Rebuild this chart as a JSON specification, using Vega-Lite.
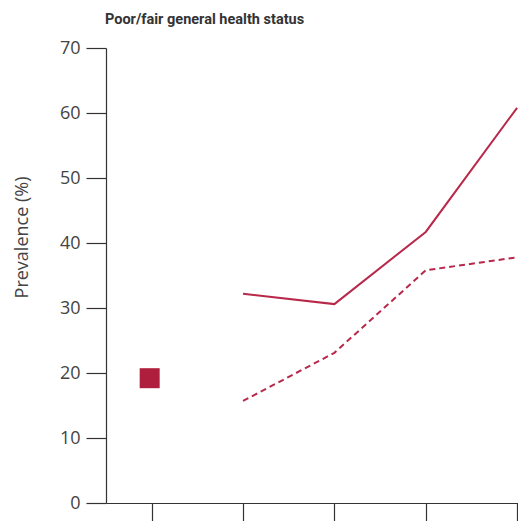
{
  "$schema": "https://vega.github.io/schema/vega-lite/v6.json",
  "width": 412,
  "height": 455,
  "autosize": {"type": "none"},
  "padding": {"left": 106, "top": 48, "right": 0, "bottom": 18},
  "background": "white",
  "title": {
    "text": "Poor/fair general health status",
    "anchor": "start",
    "frame": "group",
    "font": "Roboto",
    "fontSize": 14.5,
    "fontWeight": "bold",
    "color": "#333333",
    "baseline": "alphabetic",
    "offset": 1,
    "dx": -1
  },
  "config": {
    "view": {"stroke": null},
    "axis": {"grid": false, "domainColor": "#333333", "tickColor": "#333333", "domainWidth": 1.2, "tickWidth": 1.2}
  },
  "data": {
    "values": [
      {"series": "baseline", "pos": 1, "value": 19.2},
      {"series": "solid", "pos": 2, "value": 32.2},
      {"series": "solid", "pos": 3, "value": 30.6},
      {"series": "solid", "pos": 4, "value": 41.7},
      {"series": "solid", "pos": 5, "value": 60.8},
      {"series": "dashed", "pos": 2, "value": 15.7},
      {"series": "dashed", "pos": 3, "value": 23.1},
      {"series": "dashed", "pos": 4, "value": 35.8},
      {"series": "dashed", "pos": 5, "value": 37.8}
    ]
  },
  "encoding": {
    "x": {
      "field": "pos",
      "type": "quantitative",
      "scale": {"domain": [0.5, 5.01], "nice": false, "zero": false},
      "axis": {"title": null, "values": [1, 2, 3, 4, 5], "labels": false, "tickSize": 25}
    },
    "y": {
      "field": "value",
      "type": "quantitative",
      "scale": {"domain": [0, 70], "nice": false},
      "axis": {
        "values": [0, 10, 20, 30, 40, 50, 60, 70],
        "tickSize": 20,
        "labelPadding": 6,
        "labelFont": "Open Sans",
        "labelFontSize": 18,
        "labelColor": "#444444",
        "title": "Prevalence (%)",
        "titleFont": "Open Sans",
        "titleFontSize": 18,
        "titleFontWeight": "normal",
        "titleColor": "#444444",
        "titleX": -84,
        "titleY": 189,
        "titleAlign": "center",
        "titleBaseline": "middle",
        "titleAngle": -90
      }
    }
  },
  "layer": [
    {
      "transform": [{"filter": "datum.series === 'baseline'"}],
      "mark": {"type": "point", "shape": "square", "filled": true, "size": 400, "color": "#b01e3e", "opacity": 1, "xOffset": -2}
    },
    {
      "transform": [{"filter": "datum.series === 'solid'"}],
      "mark": {"type": "line", "color": "#b8284a", "strokeWidth": 2}
    },
    {
      "transform": [{"filter": "datum.series === 'dashed'"}],
      "mark": {"type": "line", "color": "#b8284a", "strokeWidth": 2, "strokeDash": [6, 4]}
    }
  ]
}
